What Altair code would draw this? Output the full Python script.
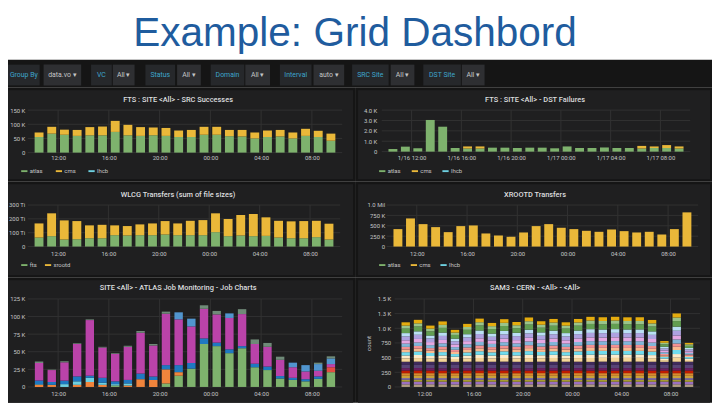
import altair as alt
import pandas as pd

# ---------------- data ----------------
hours = [10, 11, 12, 13, 14, 15, 16, 17, 18, 19, 20, 21,
         22, 23, 24, 25, 26, 27, 28, 29, 30, 31, 32, 33]   # hourly bins from 1/16 10:00
x_ticks = [12, 16, 20, 24, 28, 32]

vo_names = ["atlas", "cms", "lhcb"]

# FTS : SITE <All> - SRC Successes (K)
src_atlas = [55, 67, 63, 59, 61, 61, 73, 61, 59, 61, 59, 55, 55, 63, 63, 58, 57, 50, 55, 57, 50, 59, 55, 42]
src_cms = [16, 24, 18, 21, 29, 31, 39, 37, 31, 28, 28, 23, 25, 28, 28, 22, 23, 21, 23, 23, 21, 25, 22, 25]
src_lhcb = [0, 0, 0, 0, 0, 0, 0, 0, 0, 0, 0, 0, 0, 0, 0, 0, 0, 0, 0, 0, 0, 0, 0, 0]
src_ticks = [0, 50, 100, 150]

# FTS : SITE <All> - DST Failures (K)
dst_atlas = [0.25, 0.48, 0.32, 3.05, 2.4, 0.35, 0.3, 0.3, 0.38, 0.38, 0.35, 0.38,
             0.38, 0.32, 0.5, 0.35, 0.35, 0.4, 0.35, 0.35, 0.3, 0.35, 0.35, 0.3]
dst_cms = [0, 0, 0, 0, 0, 0, 0.2, 0.2, 0, 0, 0, 0, 0, 0, 0, 0, 0, 0, 0, 0, 0.25, 0.15, 0.28, 0.2]
dst_lhcb = [0, 0, 0, 0, 0, 0, 0, 0, 0, 0, 0, 0, 0, 0, 0, 0, 0, 0, 0, 0, 0, 0, 0, 0]
dst_ticks = [0, 1, 2, 3, 4]

# WLCG Transfers (sum of file sizes) (Ti)
wlcg_names = ["fts", "xrootd"]
wlcg_fts = [65, 75, 51, 53, 60, 60, 82, 80, 82, 82, 87, 82, 82, 82, 104, 75, 80, 75, 77, 65, 60, 60, 68, 51]
wlcg_xrootd = [102, 165, 138, 131, 93, 97, 71, 68, 78, 85, 97, 85, 104, 109, 136, 124, 148, 160, 134, 121, 122, 124, 118, 114]
wlcg_ticks = [0, 100, 200, 300]

# XROOTD Transfers (K)
xrd_atlas = [0, 0, 0, 0, 0, 0, 0, 0, 0, 0, 0, 0, 0, 0, 0, 0, 0, 0, 0, 0, 0, 0, 0, 0]
xrd_cms = [420, 677, 540, 468, 347, 492, 508, 315, 266, 234, 339, 492, 540, 452, 420, 379, 355, 411, 371, 339, 355, 290, 420, 823]
xrd_lhcb = [0, 0, 0, 0, 0, 0, 0, 0, 0, 0, 0, 0, 0, 0, 0, 0, 0, 0, 0, 0, 0, 0, 0, 0]
xrd_ticks = [0, 250, 500, 750, 1000]

# SITE <All> - ATLAS Job Monitoring - Job Charts (K)
job_names = ["j_green", "j_red", "j_orange", "j_cyan", "j_blue", "j_magenta", "j_steel", "j_gray"]
job_green = [0, 0, 0, 0, 0, 0, 2, 0, 0, 0, 5, 16, 26, 61, 58, 48, 55, 28, 24, 12, 10, 8, 11.5, 21]
job_red = [0, 0, 0, 0, 0, 0, 0, 0, 0, 0, 0, 0, 0, 0, 0, 0, 0, 0, 0, 0, 0, 0, 0, 7]
job_orange = [3, 3, 0, 3, 7, 3, 0, 2, 11, 10, 20, 5, 0, 0, 0, 0, 0, 0, 0, 0, 0, 0, 0, 0]
job_cyan = [1, 0, 4, 5, 6, 3, 2, 3, 0, 0, 0, 0, 0, 0, 0, 0, 0, 0, 0, 0, 0, 0, 0, 0]
job_blue = [5, 4, 5, 7, 3, 7, 4, 5, 8, 5, 6, 10, 8, 8, 5, 5.5, 3, 5, 5, 3.5, 3, 3, 3.5, 0]
job_magenta = [25, 17, 26, 46, 79, 43, 39, 47, 58, 44, 73, 65, 52, 42, 40, 44.5, 45.5, 28, 28, 23, 15, 11, 8, 4.5]
job_steel = [0, 0, 0, 0, 0, 0, 0, 0, 0, 0, 0, 10, 11, 0, 0, 6.5, 0, 0, 0, 0, 6.5, 9, 9.5, 8]
job_gray = [2, 0.6, 1.5, 1, 1, 1, 1, 1.5, 2.5, 2, 3, 0, 0, 5, 5, 0, 7, 6.5, 5.5, 4.5, 0, 0, 2, 3]
job_ticks = [0, 25, 50, 75, 100, 125]

# SAM3 - CERN - <All> - <All> (count), stacked bottom -> top
sam_s01 = [45, 44, 46, 45, 43, 45, 46, 44, 45, 45, 44, 46, 45, 44, 46, 45, 45, 44, 46, 45, 44, 45, 46, 44]
sam_s02 = [45, 46, 44, 45, 46, 44, 45, 46, 45, 44, 46, 45, 44, 46, 45, 45, 44, 46, 45, 44, 45, 46, 45, 44]
sam_s03 = [33, 34, 33, 32, 33, 34, 33, 33, 34, 33, 32, 33, 34, 33, 33, 32, 34, 33, 33, 34, 33, 32, 33, 34]
sam_s04 = [28, 27, 28, 29, 28, 27, 28, 28, 27, 28, 29, 28, 27, 28, 28, 29, 28, 27, 28, 28, 29, 28, 27, 28]
sam_s05 = [39, 40, 39, 38, 39, 40, 39, 39, 40, 39, 38, 39, 40, 39, 39, 38, 40, 39, 39, 40, 39, 38, 39, 40]
sam_s06 = [45, 44, 45, 46, 45, 44, 45, 45, 44, 45, 46, 45, 44, 45, 45, 46, 44, 45, 45, 44, 45, 46, 45, 44]
sam_s07 = [45, 46, 45, 44, 45, 46, 45, 45, 46, 45, 44, 45, 46, 45, 45, 44, 46, 45, 45, 46, 45, 44, 45, 46]
sam_s08 = [40, 41, 40, 39, 40, 41, 40, 40, 41, 40, 39, 40, 41, 40, 40, 39, 41, 40, 40, 41, 40, 39, 40, 41]
sam_s09 = [55, 54, 55, 56, 55, 54, 55, 55, 54, 55, 56, 55, 54, 55, 55, 56, 54, 55, 55, 54, 55, 56, 55, 54]
sam_s10 = [55, 56, 55, 54, 55, 56, 55, 55, 56, 55, 54, 55, 56, 55, 55, 54, 56, 55, 55, 56, 55, 54, 55, 56]
sam_s11 = [57, 60, 52, 58, 47, 55, 62, 56, 61, 58, 64, 58, 62, 57, 61, 65, 64, 65, 64, 64, 60, 30, 70, 28]
sam_s12 = [50, 53, 46, 51, 40, 48, 55, 49, 54, 50, 56, 51, 54, 50, 54, 57, 56, 57, 56, 56, 53, 26, 61, 24]
sam_s13 = [56, 59, 51, 57, 45, 54, 61, 55, 60, 57, 63, 57, 61, 56, 61, 64, 63, 64, 63, 63, 59, 30, 69, 27]
sam_s14 = [45, 48, 41, 46, 36, 43, 49, 44, 48, 45, 51, 46, 49, 45, 49, 51, 51, 51, 51, 51, 48, 24, 55, 21]
sam_s15 = [45, 47, 42, 46, 37, 43, 49, 45, 48, 46, 50, 46, 48, 45, 49, 52, 50, 52, 51, 50, 48, 24, 55, 22]
sam_s16 = [56, 59, 51, 57, 45, 54, 61, 55, 60, 57, 63, 57, 61, 56, 61, 64, 63, 64, 63, 63, 59, 30, 69, 27]
sam_s17 = [56, 60, 52, 58, 46, 53, 61, 55, 60, 56, 63, 58, 60, 56, 61, 64, 63, 64, 63, 64, 60, 29, 68, 26]
sam_s18 = [67, 71, 61, 69, 54, 64, 73, 66, 72, 68, 75, 69, 73, 67, 73, 76, 75, 76, 75, 75, 71, 35, 82, 32]
sam_s19 = [56, 59, 51, 57, 45, 54, 61, 55, 60, 57, 63, 57, 61, 56, 61, 64, 63, 64, 63, 63, 59, 30, 69, 27]
sam_s20 = [78, 83, 71, 80, 63, 75, 85, 77, 84, 79, 88, 80, 84, 78, 84, 89, 88, 89, 88, 88, 83, 41, 95, 37]
sam_s21 = [50, 53, 46, 51, 40, 48, 55, 49, 54, 50, 56, 51, 54, 50, 54, 57, 56, 57, 56, 56, 53, 26, 61, 24]
sam_s22 = [56, 60, 52, 59, 46, 53, 62, 55, 62, 55, 64, 59, 61, 56, 60, 64, 64, 64, 63, 63, 59, 29, 69, 25]
sam_ticks = [0, 250, 500, 750, 1000, 1250, 1500]

# toolbar
toolbar_labels = ["Group By", "VC", "Status", "Domain", "Interval", "SRC Site", "DST Site"]
toolbar_values = ["data.vo \u25be", "All \u25be", "All \u25be", "All \u25be", "auto \u25be", "All \u25be", "All \u25be"]

# ---------------- styling ----------------
FONT = "Roboto"
PAGE_BG = "#151515"
PANEL_BG = "#1f1f20"
GRID = "#323232"
LABEL = "#c4c5c6"
TITLE_C = "#dcdddf"
TEAL = "#3ea6cc"
LBOX = "#26282b"
VBOX = "#2e2f32"
BLUE = "#1f5c9e"
C_ATLAS, C_CMS, C_LHCB = "#7EB26D", "#EAB839", "#6ED0E0"

job_colors = ["#7EB26D", "#E24D42", "#EF843C", "#6ED0E0", "#1F78C1", "#BA43A9", "#5195CE", "#6f8a78"]
sam_colors = ["#b09c83", "#9b6fc1", "#a89c32", "#806eb7", "#c9a23a", "#d98a2e", "#bf1b00",
              "#6d1f62", "#584477", "#3f2b5b", "#f4d598", "#fceaca", "#70dbed", "#f9ba8f",
              "#f29191", "#82b5d8", "#e5a8e2", "#aea2e0", "#badff4", "#629e51", "#9ac48a", "#e5ac0e"]

one = pd.DataFrame({"a": [0]})

# page-space layout: origin of the first column sits at page (OX, OY)
OX, OY = 28, 28


def hour_expr(prefix=False):
    base = "(datum.value % 24 < 10 ? '0' : '') + (datum.value % 24) + ':00'"
    if prefix:
        return "(datum.value < 24 ? '1/16 ' : '1/17 ') + " + base
    return base


def box(chart_df, color, l, t, r, b, left, top):
    return alt.Chart(chart_df).mark_rect(color=color).encode(
        x=alt.value(l - left), x2=alt.value(r - left),
        y=alt.value(t - top), y2=alt.value(b - top))


def panel(names, series, colors, title, y_ticks, y_expr, plot, rect, outer, title_xy,
          x_expr=None, legend_xy=None, bar_size=9, y_title=None, col_pad=9,
          x_pad=3, y_pad=3):
    left, top, w, h = plot
    rows = []
    for k, (name, vals) in enumerate(zip(names, series)):
        for hr, v in zip(hours, vals):
            rows.append({"t": hr + 0.5, "s": name, "v": v, "k": k})
    df = pd.DataFrame(rows)
    xs = alt.Scale(domain=[10, 34], nice=False, zero=False)
    ys = alt.Scale(domain=[y_ticks[0], y_ticks[-1]], nice=False)
    xa = alt.Axis(values=x_ticks, labelExpr=x_expr or hour_expr(), grid=False, domain=False,
                  ticks=False, labelFont=FONT, labelFontSize=6, labelColor=LABEL,
                  labelPadding=x_pad, labelOverlap=False, title=None, zindex=1)
    ykw = dict(values=y_ticks, labelExpr=y_expr, grid=False, domain=False, ticks=False,
               labelFont=FONT, labelFontSize=6, labelColor=LABEL, labelPadding=y_pad,
               labelOverlap=False, zindex=1)
    if y_title:
        ya = alt.Axis(title=y_title, titleFont=FONT, titleFontSize=6, titleColor=LABEL,
                      titleFontWeight="normal", titlePadding=6, **ykw)
    else:
        ya = alt.Axis(title=None, **ykw)
    X = alt.X("t:Q", scale=xs, axis=xa)
    page_bg = box(one, PAGE_BG, *outer, left, top)
    bg = box(one, PANEL_BG, *rect, left, top)
    ygrid = alt.Chart(pd.DataFrame({"v": y_ticks})).mark_rule(color=GRID, strokeWidth=1).encode(
        y=alt.Y("v:Q", scale=ys, axis=ya))
    xgrid = alt.Chart(pd.DataFrame({"t": x_ticks})).mark_rule(color=GRID, strokeWidth=1).encode(x=X)
    if legend_xy:
        legend = alt.Legend(orient="none", legendX=legend_xy[0] - left, legendY=legend_xy[1] - top,
                            direction="horizontal", title=None,
                            symbolType="M-1,-0.3H1V0.3H-1Z", symbolSize=40, symbolStrokeWidth=0,
                            labelFont=FONT, labelFontSize=6, labelColor=LABEL, labelOffset=2,
                            columnPadding=col_pad, padding=0, zindex=1)
    else:
        legend = None
    bars = alt.Chart(df).mark_bar(size=bar_size).encode(
        x=X,
        y=alt.Y("v:Q", scale=ys, axis=ya, stack="zero"),
        color=alt.Color("s:N", scale=alt.Scale(domain=names, range=colors), legend=legend),
        order=alt.Order("k:Q", sort="ascending"))
    ttl = alt.Chart(one).mark_text(text=title, font=FONT, fontSize=7.5, fontWeight=500, color=TITLE_C,
                                   align="center", baseline="middle").encode(
        x=alt.value(title_xy[0] - left), y=alt.value(title_xy[1] - top))
    return alt.layer(page_bg, bg, ygrid, xgrid, bars, ttl).properties(width=w, height=h)


p1 = panel(vo_names, [src_atlas, src_cms, src_lhcb], [C_ATLAS, C_CMS, C_LHCB],
           "FTS : SITE <All> - SRC Successes", src_ticks,
           "datum.value == 0 ? '0' : datum.value + ' K'",
           (OX, 109, 318, 43), (8, 89, 357, 179), (8, 86, 359, 181), (180, 99), legend_xy=(21, 167),
           col_pad=12, x_pad=2, y_pad=3)
p2 = panel(vo_names, [dst_atlas, dst_cms, dst_lhcb], [C_ATLAS, C_CMS, C_LHCB],
           "FTS : SITE <All> - DST Failures", dst_ticks,
           "datum.value == 0 ? '0' : format(datum.value, '.1f') + ' K'",
           (386, 109, 312, 42), (362, 89, 718, 179), (359, 86, 720, 181), (541, 99), x_expr=hour_expr(True),
           legend_xy=(383, 167), col_pad=10, x_pad=3, y_pad=5)
p3 = panel(wlcg_names, [wlcg_fts, wlcg_xrootd], [C_ATLAS, C_CMS],
           "WLCG Transfers (sum of file sizes)", wlcg_ticks,
           "datum.value == 0 ? '0' : datum.value + ' Ti'",
           (OX, 205, 316, 42), (8, 184, 357, 276), (8, 181, 359, 278), (180, 195), legend_xy=(21, 262),
           col_pad=7, x_pad=4, y_pad=3)
p4 = panel(vo_names, [xrd_atlas, xrd_cms, xrd_lhcb], [C_ATLAS, C_CMS, C_LHCB],
           "XROOTD Transfers", xrd_ticks,
           "datum.value == 0 ? '0' : datum.value == 1000 ? '1.0 Mil' : datum.value + ' K'",
           (391, 205, 315, 42), (362, 184, 718, 276), (359, 181, 720, 278), (541, 195), legend_xy=(383, 262),
           col_pad=9, x_pad=4, y_pad=2)
p5 = panel(job_names, [job_green, job_red, job_orange, job_cyan, job_blue, job_magenta, job_steel, job_gray],
           job_colors, "SITE <All> - ATLAS Job Monitoring - Job Charts", job_ticks,
           "datum.value == 0 ? '0' : datum.value + ' K'",
           (OX, 300, 318, 89), (8, 281, 357, 405), (8, 278, 359, 405), (180, 289), bar_size=8.5, x_pad=4, y_pad=3)
sam_names = ["s%02d" % i for i in range(1, 23)]
p6 = panel(sam_names, [sam_s01, sam_s02, sam_s03, sam_s04, sam_s05, sam_s06, sam_s07, sam_s08,
                       sam_s09, sam_s10, sam_s11, sam_s12, sam_s13, sam_s14, sam_s15, sam_s16,
                       sam_s17, sam_s18, sam_s19, sam_s20, sam_s21, sam_s22],
           sam_colors, "SAM3 - CERN - <All> - <All>", sam_ticks,
           "datum.value >= 1000 ? format(datum.value / 1000, '.1f') + ' K' : datum.value",
           (399, 300, 309, 89), (362, 281, 718, 405), (359, 278, 720, 405), (541, 289), bar_size=8.5,
           y_title="count", x_pad=4, y_pad=4)

# ---------------- header: slide title + toolbar ----------------
label_boxes = [(8, 40), (92, 113), (147, 177), (213, 247), (283, 315), (356, 393), (428, 466)]
value_boxes = [(44, 82), (114, 136), (179, 203), (248, 273), (317, 348), (395, 419), (467, 490)]
tb_rows = []
for lab, val, lb, vb in zip(toolbar_labels, toolbar_values, label_boxes, value_boxes):
    tb_rows.append({"txt": lab, "kind": "label", "x0": lb[0] - OX, "x1": lb[1] - OX})
    tb_rows.append({"txt": val, "kind": "value", "x0": vb[0] - OX, "x1": vb[1] - OX})
tb = pd.DataFrame(tb_rows)
tb["xc"] = (tb["x0"] + tb["x1"]) / 2

white = box(one, "white", 8, 8, 720, 58, OX, OY)
dark = box(one, PAGE_BG, 8, 58, 720, 86, OX, OY)
head = alt.Chart(one).mark_text(text="Example: Grid Dashbord", font="Liberation Sans", fontSize=41,
                                color=BLUE, align="center", baseline="alphabetic").encode(
    x=alt.value(359 - OX), y=alt.value(44 - OY))
boxes = alt.Chart(tb).mark_rect().encode(
    x=alt.X("x0:Q", scale=None, axis=None), x2="x1:Q",
    y=alt.value(63 - OY), y2=alt.value(84 - OY),
    fill=alt.Fill("kind:N", scale=alt.Scale(domain=["label", "value"], range=[LBOX, VBOX]), legend=None))
txt = alt.Chart(tb).mark_text(font=FONT, fontSize=7, baseline="middle").encode(
    x=alt.X("xc:Q", scale=None, axis=None), y=alt.value(74 - OY), text="txt:N",
    color=alt.Color("kind:N", scale=alt.Scale(domain=["label", "value"], range=[TEAL, LABEL]), legend=None))
top = alt.layer(white, dark, head, boxes, txt).properties(width=680, height=86 - OY)

row1 = alt.hconcat(p1, p2, spacing=0).resolve_scale(color="independent")
row2 = alt.hconcat(p3, p4, spacing=0).resolve_scale(color="independent")
row3 = alt.hconcat(p5, p6, spacing=0).resolve_scale(color="independent")

chart = (alt.vconcat(top, row1, row2, row3, spacing=0)
         .resolve_scale(color="independent")
         .properties(background="white", padding=0)
         .configure_view(strokeWidth=0))

chart.save("out.html", embed_options={"renderer": "svg", "actions": False})
